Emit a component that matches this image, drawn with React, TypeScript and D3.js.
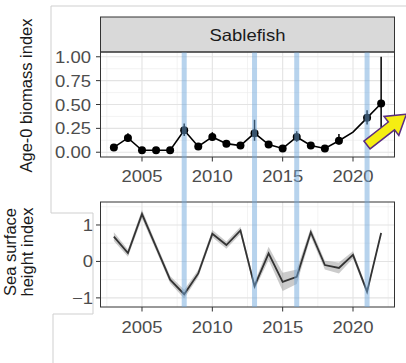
import * as d3 from "d3";

// survey years
const years = [2003, 2004, 2005, 2006, 2007, 2008, 2009, 2010, 2011, 2012, 2013, 2014, 2015, 2016, 2017, 2018, 2019, 2020, 2021, 2022];

// age-0 sablefish biomass index (2020 not sampled: line only)
const biomass = [0.05, 0.15, 0.02, 0.02, 0.02, 0.23, 0.06, 0.16, 0.09, 0.07, 0.2, 0.08, 0.04, 0.16, 0.07, 0.04, 0.12, 0.21, 0.36, 0.51];
const sampled = [true, true, true, true, true, true, true, true, true, true, true, true, true, true, true, true, true, false, true, true];
const biomassLo = [0.04, 0.11, 0.01, 0.01, 0.01, 0.17, 0.05, 0.12, 0.08, 0.06, 0.12, 0.07, 0.03, 0.11, 0.06, 0.03, 0.08, 0.21, 0.29, 0.26];
const biomassHi = [0.06, 0.2, 0.03, 0.03, 0.03, 0.3, 0.07, 0.21, 0.1, 0.08, 0.34, 0.09, 0.05, 0.22, 0.08, 0.05, 0.19, 0.21, 0.44, 1.0];

// sea surface height index and its uncertainty
const ssh = [0.68, 0.23, 1.3, 0.4, -0.5, -0.9, -0.33, 0.76, 0.45, 0.85, -0.68, 0.22, -0.56, -0.42, 0.8, -0.1, -0.18, 0.18, -0.83, 0.78];
const sshSe = [0.12, 0.1, 0.12, 0.1, 0.1, 0.12, 0.1, 0.1, 0.1, 0.1, 0.1, 0.18, 0.25, 0.2, 0.12, 0.12, 0.15, 0.1, 0.08, 0.05];

// highlighted years
const markYears = [2008, 2013, 2016, 2021];

const xTicks = [2005, 2010, 2015, 2020];
const xMinor = [2002.5, 2007.5, 2012.5, 2017.5, 2022.5];
const topTicks = [0, 0.25, 0.5, 0.75, 1];
const topMinor = [0.125, 0.375, 0.625, 0.875];
const botTicks = [-1, 0, 1];
const botMinor = [-0.5, 0.5, 1.5];

const font = "'Liberation Sans', Arial, sans-serif";
const sx = 1.12; // horizontal stretch of the source image

export default function App() {
  const width = 406;
  const height = 363;

  const x = d3.scaleLinear().domain([2002.05, 2022.95]).range([100.5, 394.5]);
  const yTop = d3.scaleLinear().domain([-0.05, 1.05]).range([157, 52]);
  const yBot = d3.scaleLinear().domain([-1.25, 1.63]).range([307, 202]);

  const pts = years.map((yr, i) => ({ yr, v: biomass[i], lo: biomassLo[i], hi: biomassHi[i], s: sampled[i], h: ssh[i], se: sshSe[i] }));

  const topLine = d3.line<any>().x((d) => x(d.yr)).y((d) => yTop(d.v));
  const botLine = d3.line<any>().x((d) => x(d.yr)).y((d) => yBot(d.h));
  const botArea = d3
    .area<any>()
    .x((d) => x(d.yr))
    .y0((d) => yBot(d.h - d.se))
    .y1((d) => yBot(d.h + d.se));

  const label = (tx: number, ty: number, txt: string, anchor: string, size = 16.5, fill = "#4d4d4d", key?: any) => (
    <text key={key ?? txt + tx + ty} transform={`translate(${tx},${ty}) scale(${sx},1)`} textAnchor={anchor} fontSize={size} fill={fill} fontFamily={font}>
      {txt}
    </text>
  );

  const panel = (yS: any, ticks: number[], minor: number[], fmt: (v: number) => string, yLabelX: number, xLabelY: number) => {
    const [y0, y1] = yS.range();
    return (
      <g>
        <rect x={100.5} y={y1} width={294} height={y0 - y1} fill="white" />
        {xMinor.map((t) => (
          <line key={"xm" + t} x1={x(t)} x2={x(t)} y1={y1} y2={y0} stroke="#ebebeb" strokeWidth={0.6} />
        ))}
        {minor.map((t) => (
          <line key={"ym" + t} x1={100.5} x2={394.5} y1={yS(t)} y2={yS(t)} stroke="#ebebeb" strokeWidth={0.6} />
        ))}
        {xTicks.map((t) => (
          <line key={"xg" + t} x1={x(t)} x2={x(t)} y1={y1} y2={y0} stroke="#e3e3e3" strokeWidth={1.1} />
        ))}
        {ticks.map((t) => (
          <line key={"yg" + t} x1={100.5} x2={394.5} y1={yS(t)} y2={yS(t)} stroke="#e3e3e3" strokeWidth={1.1} />
        ))}
        {ticks.map((t) => (
          <g key={"yt" + t}>
            <line x1={96} x2={100.5} y1={yS(t)} y2={yS(t)} stroke="#333" strokeWidth={1} />
            {label(yLabelX, yS(t) + 6, fmt(t), "end", 16.5, "#4d4d4d", "yl" + t)}
          </g>
        ))}
        {xTicks.map((t) => (
          <g key={"xt" + t}>
            <line x1={x(t)} x2={x(t)} y1={y0} y2={y0 + 4.5} stroke="#333" strokeWidth={1} />
            {label(x(t), xLabelY, String(t), "middle", 16.5, "#4d4d4d", "xl" + t)}
          </g>
        ))}
      </g>
    );
  };

  // arrow outline in local coordinates (pointing along +x)
  const arrowPts: [number, number][] = [
    [0, -5],
    [31, -5],
    [31, -12],
    [50, 0],
    [31, 12],
    [31, 5],
    [0, 5],
  ];

  return (
    <svg width={width} height={height} style={{ position: "absolute", left: 0, top: 0, background: "white" }}>
      <path d="M406 6 H51 V213 H93 V314 H53 V363" fill="none" stroke="#cfcfcf" strokeWidth={1} />

      {panel(yTop, topTicks, topMinor, (v) => d3.format(".2f")(v), 91, 182)}
      {panel(yBot, botTicks, botMinor, (v) => d3.format("d")(v), 93, 333)}

      {/* strip */}
      <rect x={100.5} y={17} width={294} height={35} fill="#d9d9d9" stroke="#333" strokeWidth={1} />
      {label(247.5, 40.5, "Sablefish", "middle", 16.5, "#1a1a1a")}

      {/* top series */}
      {pts.map((d) => (
        <line key={"eb" + d.yr} x1={x(d.yr)} x2={x(d.yr)} y1={yTop(d.lo)} y2={yTop(d.hi)} stroke="black" strokeWidth={1.5} />
      ))}
      <path d={topLine(pts) ?? ""} fill="none" stroke="black" strokeWidth={1.6} />
      {pts
        .filter((d) => d.s)
        .map((d) => (
          <circle key={"p" + d.yr} cx={x(d.yr)} cy={yTop(d.v)} r={4} fill="black" />
        ))}

      {/* bottom series */}
      <path d={botArea(pts) ?? ""} fill="#8c8c8c" opacity={0.45} />
      <path d={botLine(pts) ?? ""} fill="none" stroke="#333" strokeWidth={1.8} />

      {/* panel borders */}
      <rect x={100.5} y={52} width={294} height={105} fill="none" stroke="#333" strokeWidth={1} />
      <rect x={100.5} y={202} width={294} height={105} fill="none" stroke="#333" strokeWidth={1} />

      {/* highlighted years */}
      {markYears.map((yr) => (
        <rect key={"m" + yr} x={x(yr) - 2.5} y={52.5} width={5} height={254.5} fill="#6fa8dc" opacity={0.5} />
      ))}

      {/* axis titles */}
      <text transform="translate(32,95.5) rotate(-90)" textAnchor="middle" fontSize={16.5} fill="#1a1a1a" fontFamily={font}>
        Age-0 biomass index
      </text>
      <text transform="translate(16,252) rotate(-90)" textAnchor="middle" fontSize={16.5} fill="#1a1a1a" fontFamily={font}>
        Sea surface
      </text>
      <text transform="translate(32.5,252) rotate(-90)" textAnchor="middle" fontSize={16.5} fill="#1a1a1a" fontFamily={font}>
        height index
      </text>

      {/* yellow arrow */}
      <polygon
        points={arrowPts.map((p) => p.join(",")).join(" ")}
        transform="translate(367,145) rotate(-38)"
        fill="#f5ee12"
        stroke="#5a2d82"
        strokeWidth={1.5}
        strokeLinejoin="miter"
      />
    </svg>
  );
}
